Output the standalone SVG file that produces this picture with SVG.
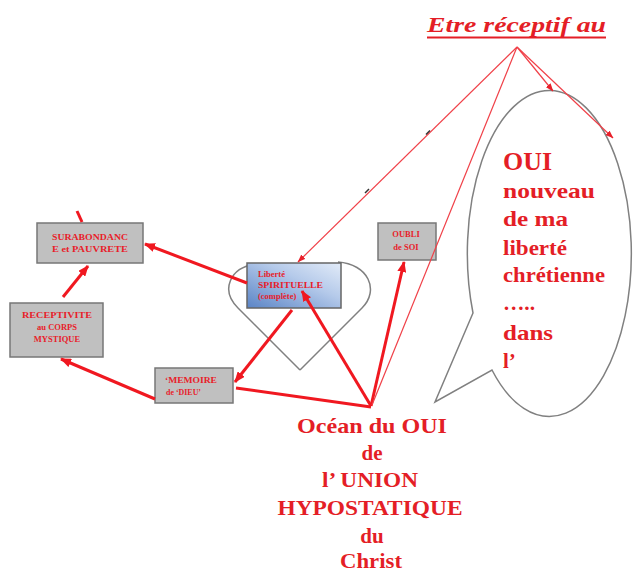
<svg xmlns="http://www.w3.org/2000/svg" width="635" height="572" viewBox="0 0 635 572">
<style>
.box{fill:#c0c0c0;stroke:#777;stroke-width:1.5}
.bt{font-family:"Liberation Serif",serif;font-weight:bold;font-size:8.5px;fill:#e8202a}
.big{font-family:"Liberation Serif",serif;font-weight:bold;font-size:21px;fill:#e41e26}
.thick{stroke:#f01820;stroke-width:3;fill:none}
.thin{stroke:#f04048;stroke-width:1.2;fill:none}
.shape{fill:none;stroke:#808080;stroke-width:1.5}
</style>
<defs>
<marker id="ah" markerUnits="userSpaceOnUse" markerWidth="11" markerHeight="9" refX="10" refY="4.5" orient="auto"><path d="M0,0 L11,4.5 L0,9 z" fill="#f01820"/></marker>
<marker id="as" markerUnits="userSpaceOnUse" markerWidth="8" markerHeight="6" refX="7.5" refY="3" orient="auto"><path d="M0,0 L8,3 L0,6 z" fill="#e8202a"/></marker>
<linearGradient id="g" x1="0" y1="1" x2="1" y2="0"><stop offset="0" stop-color="#5a84c6"/><stop offset="0.6" stop-color="#b5caea"/><stop offset="1" stop-color="#e2ebf8"/></linearGradient>
</defs>
<rect width="635" height="572" fill="#fff"/>

<g id="bubble">
<path class="shape" d="M492,370 A82,163 0 1 0 473,313 L435,402 Z" fill="#fff"/>
<g class="big">
<text x="503" y="170" font-size="26" textLength="49" lengthAdjust="spacingAndGlyphs">OUI</text>
<text x="503" y="198" textLength="92" lengthAdjust="spacingAndGlyphs">nouveau</text>
<text x="503" y="226" textLength="65" lengthAdjust="spacingAndGlyphs">de ma</text>
<text x="503" y="255" textLength="64" lengthAdjust="spacingAndGlyphs">liberté</text>
<text x="503" y="282" textLength="102" lengthAdjust="spacingAndGlyphs">chrétienne</text>
<text x="503" y="310" textLength="32" lengthAdjust="spacingAndGlyphs">…..</text>
<text x="503" y="340" textLength="50" lengthAdjust="spacingAndGlyphs">dans</text>
<text x="503" y="368">l’</text>
</g>
</g>

<g id="heart">
<path class="shape" d="M300,370 L238,308 C220,290 230,268 255,264 M300,370 L362,308 C380,290 368,264 338,262"/>
</g>

<g id="title">
<text x="427" y="32" font-family="Liberation Serif,serif" font-weight="bold" font-style="italic" font-size="21" fill="#e41e26" textLength="179" lengthAdjust="spacingAndGlyphs">Etre  réceptif au</text>
<line x1="427" y1="37.5" x2="606" y2="37.5" stroke="#e41e26" stroke-width="2"/>
</g>

<g id="surabondance">
<rect class="box" x="37" y="223" width="106" height="40"/>
<text class="bt" x="90" y="240" text-anchor="middle" textLength="76" lengthAdjust="spacingAndGlyphs">SURABONDANC</text>
<text class="bt" x="90" y="252" text-anchor="middle" textLength="76" lengthAdjust="spacingAndGlyphs">E et PAUVRETE</text>
</g>

<g id="receptivite">
<rect class="box" x="10" y="303" width="93" height="54"/>
<text class="bt" x="57" y="318" text-anchor="middle" textLength="70" lengthAdjust="spacingAndGlyphs">RECEPTIVITE</text>
<text class="bt" x="57" y="330" text-anchor="middle">au CORPS</text>
<text class="bt" x="57" y="342" text-anchor="middle">MYSTIQUE</text>
</g>

<g id="memoire">
<rect class="box" x="155" y="368" width="78" height="35"/>
<text class="bt" x="165" y="383" textLength="52" lengthAdjust="spacingAndGlyphs">‘MEMOIRE</text>
<text class="bt" x="166" y="395" textLength="35" lengthAdjust="spacingAndGlyphs">de  ‘DIEU’</text>
</g>

<g id="oubli">
<rect class="box" x="378" y="223" width="58" height="37"/>
<text class="bt" x="406" y="237" text-anchor="middle">OUBLI</text>
<text class="bt" x="406" y="250" text-anchor="middle">de SOI</text>
</g>

<g id="liberte">
<rect x="247" y="263" width="94" height="45" fill="url(#g)" stroke="#666" stroke-width="1.5"/>
<text class="bt" x="258" y="277" font-weight="normal">Liberté</text>
<text class="bt" x="258" y="288" textLength="65" lengthAdjust="spacingAndGlyphs">SPIRITUELLE</text>
<text class="bt" x="258" y="299" font-weight="normal">(complète)</text>
</g>

<g id="ocean" class="big" text-anchor="middle" font-size="20">
<text x="372" y="433" textLength="150" lengthAdjust="spacingAndGlyphs">Océan  du OUI</text>
<text x="372" y="460">de</text>
<text x="370" y="487" textLength="96" lengthAdjust="spacingAndGlyphs">l’ UNION</text>
<text x="370" y="515" textLength="185" lengthAdjust="spacingAndGlyphs">HYPOSTATIQUE</text>
<text x="372" y="543">du</text>
<text x="371" y="568" textLength="62" lengthAdjust="spacingAndGlyphs">Christ</text>
</g>

<g id="connectors">
<path class="thick" d="M247,283 L145,244" marker-end="url(#ah)"/>
<path class="thick" d="M63,297 L88,266" marker-end="url(#ah)"/>
<path class="thick" d="M155,399 L61,359" marker-end="url(#ah)"/>
<path class="thick" d="M292,310 L235,382" marker-end="url(#ah)"/>
<path class="thick" d="M371,406 L302,291" marker-end="url(#ah)"/>
<path class="thick" d="M371,406 L404,262" marker-end="url(#ah)"/>
<path class="thick" d="M236,388 L371,407"/>
<path class="thick" d="M77,211 L82,222" stroke-width="2"/>
<path class="thin" d="M517,47 L298,262" marker-end="url(#as)"/>
<path class="thin" d="M517,47 L372,405"/>
<path class="thin" d="M517,47 L553,91" marker-end="url(#as)"/>
<path class="thin" d="M517,47 L613,138" marker-end="url(#as)"/>
<path d="M430,130.5 L426,134.5 M369,189 L365,193" stroke="#333" stroke-width="1.5"/>
</g>
</svg>
